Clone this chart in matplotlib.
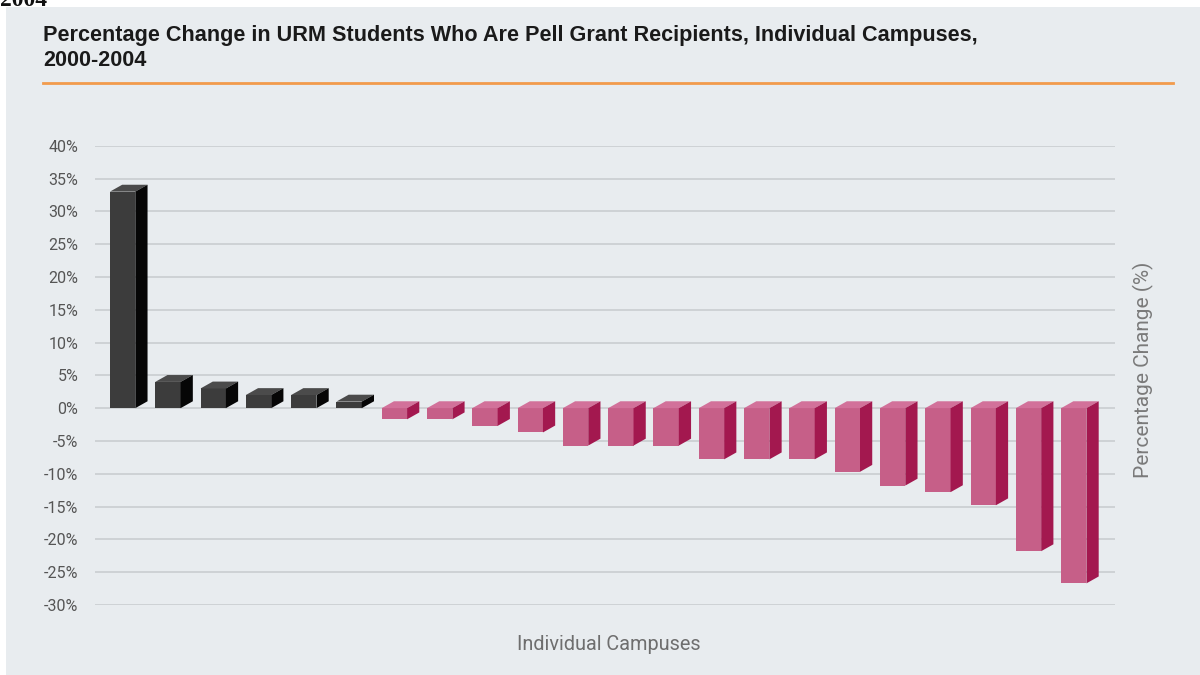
import matplotlib.pyplot as plt
from matplotlib.patches import Polygon, Rectangle
from matplotlib.lines import Line2D

# percentage change per campus, sorted high to low
values = [33, 4, 3, 2, 2, 1,
          -1.7, -1.7, -2.7, -3.7, -5.7, -5.7, -5.7, -7.8, -7.8, -7.8,
          -9.7, -11.8, -12.8, -14.8, -21.8, -26.7]
yticks = [40, 35, 30, 25, 20, 15, 10, 5, 0, -5, -10, -15, -20, -25, -30]
title = ("Percentage Change in URM Students Who Are Pell Grant Recipients, "
         "Individual Campuses,\n2000-2004")

BG = "#e8ecef"
width = 0.56
dx, dy = 0.27, 1.05   # depth of the fake 3D faces

fig = plt.figure(figsize=(12, 6.75), dpi=100)
fig.patch.set_facecolor("white")
fig.patches.append(Rectangle((6 / 1200, 0), 1, 1 - 7 / 675,
                             transform=fig.transFigure, facecolor=BG,
                             edgecolor="none", zorder=-10))

# bit of text spilling over from the previous page
fig.text(0.0, 1.0, "2004", family="Liberation Serif", weight="bold",
         fontsize=17, ha="left", va="center", color="#111111")

fig.text(43 / 1200, 1 - 25 / 675, title, family="Liberation Sans", weight="bold",
         fontsize=15.6, ha="left", va="top", color="#1a1a1a", linespacing=1.25)
fig.add_artist(Line2D([43 / 1200, 1173 / 1200], [1 - 83 / 675] * 2,
                      transform=fig.transFigure, color="#f29b4c", lw=2))

ax = fig.add_axes([95 / 1200, 70 / 675, 1020 / 1200, (605 - 145.7) / 675])
ax.set_facecolor(BG)
ax.set_xlim(-0.61, 21.91)
ax.set_ylim(-30, 40)

for i, v in enumerate(values):
    if v >= 0:
        front, side, top = "#3c3c3c", "#060606", "#4b4b4b"
        lo, hi = 0, v
    else:
        front, side, top = "#c65f88", "#a3184f", "#d2719a"
        lo, hi = v, 0
    x0 = i - width / 2
    x1 = i + width / 2
    ax.bar(i, v, width=width, color=front, zorder=3)
    ax.add_patch(Polygon([(x0, hi), (x1, hi), (x1 + dx, hi + dy), (x0 + dx, hi + dy)],
                         closed=True, facecolor=top, edgecolor="none", zorder=3))
    ax.add_patch(Polygon([(x1, lo), (x1, hi), (x1 + dx, hi + dy), (x1 + dx, lo + dy)],
                         closed=True, facecolor=side, edgecolor="none", zorder=3))

ax.set_yticks(yticks)
ax.set_yticklabels([f"{t}%" for t in yticks], family="Roboto", fontsize=11.5,
                   color="#555555")
ax.set_xticks([])
ax.tick_params(axis="y", length=0, pad=12)
ax.grid(axis="y", color="#c9cdd0", lw=1.2, zorder=0)
for s in ax.spines.values():
    s.set_visible(False)

fig.text(609 / 1200, 1 - 645 / 675, "Individual Campuses", family="Roboto",
         fontsize=14.3, color="#6e6e6e", ha="center", va="center")
fig.text(1143 / 1200, 1 - 370 / 675, "Percentage Change (%)", family="Roboto",
         fontsize=15, color="#7a7a7a", ha="center", va="center", rotation=90)

fig.savefig("out.png", dpi=100, facecolor=fig.get_facecolor())
